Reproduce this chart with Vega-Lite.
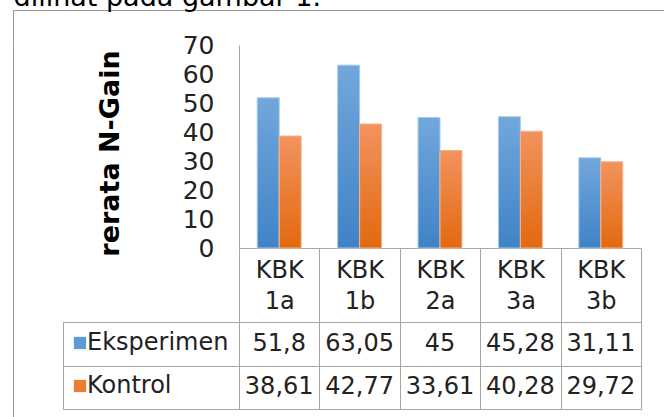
{
  "$schema": "https://vega.github.io/schema/vega-lite/v6.json",
  "padding": {"left": 12, "top": -17, "right": 0, "bottom": 0},
  "background": "white",
  "title": {"text": "dilihat pada gambar 1.", "anchor": "start", "fontSize": 27, "font": "DejaVu Sans", "fontWeight": "normal", "color": "#000000", "offset": -23, "baseline": "alphabetic", "dx": 1},
  "config": {
    "font": "DejaVu Sans",
    "view": {"stroke": null},
    "locale": {"number": {"decimal": ",", "thousands": ".", "grouping": [3], "currency": ["", ""]}}
  },
  "datasets": {
    "gain": [
      {"kbk": "KBK 1a", "series": "Eksperimen", "value": 51.8},
      {"kbk": "KBK 1a", "series": "Kontrol", "value": 38.61},
      {"kbk": "KBK 1b", "series": "Eksperimen", "value": 63.05},
      {"kbk": "KBK 1b", "series": "Kontrol", "value": 42.77},
      {"kbk": "KBK 2a", "series": "Eksperimen", "value": 45},
      {"kbk": "KBK 2a", "series": "Kontrol", "value": 33.61},
      {"kbk": "KBK 3a", "series": "Eksperimen", "value": 45.28},
      {"kbk": "KBK 3a", "series": "Kontrol", "value": 40.28},
      {"kbk": "KBK 3b", "series": "Eksperimen", "value": 31.11},
      {"kbk": "KBK 3b", "series": "Kontrol", "value": 29.72}
    ],
    "series": [{"series": "Eksperimen"}, {"series": "Kontrol"}]
  },
  "bounds": "flush",
  "spacing": 0,
  "vconcat": [
    {
      "data": {"values": []},
      "mark": "point",
      "encoding": {},
      "width": 660,
      "height": 35,
      "view": {"stroke": "#999999", "strokeWidth": 1, "strokeDash": [660, 695, 35, 0]}
    },
    {
      "bounds": "flush",
      "spacing": 0,
      "hconcat": [
        {
          "data": {"values": []},
          "mark": "point",
          "encoding": {},
          "width": 50,
          "height": 380,
          "view": {"stroke": "#999999", "strokeWidth": 1, "strokeDash": [0, 480, 380, 0]}
        },
        {
          "columns": 2,
          "bounds": "flush",
          "spacing": {"row": 74, "column": 0},
          "resolve": {"legend": {"color": "independent"}},
          "concat": [
            {
              "data": {"values": []},
              "mark": "point",
              "encoding": {},
              "width": 176,
              "height": 203
            },
            {
              "data": {"name": "gain"},
              "width": 402,
              "height": 203,
              "mark": {"type": "bar", "strokeWidth": 1},
              "encoding": {
                "x": {
                  "field": "kbk", "type": "nominal", "sort": null,
                  "scale": {"paddingInner": 0, "paddingOuter": 0},
                  "axis": {
                    "title": null, "labelAngle": 0,
                    "labelExpr": "split(datum.label, ' ')",
                    "labelFontSize": 24, "labelLineHeight": 31, "labelColor": "#222222",
                    "labelPadding": -64, "labelBaseline": "top",
                    "tickSize": 74, "tickBand": "extent", "tickColor": "#a6a6a6",
                    "domainColor": "#a6a6a6", "grid": false
                  }
                },
                "xOffset": {"field": "series", "type": "nominal", "scale": {"paddingInner": 0, "paddingOuter": 0.83}},
                "y": {
                  "field": "value", "type": "quantitative",
                  "scale": {"domain": [0, 70], "nice": false},
                  "axis": {
                    "title": "rerata N-Gain", "titleFontSize": 27, "titleFontWeight": "bold", "titleColor": "#000000",
                    "titlePadding": 58, "titleY": 108,
                    "values": [0, 10, 20, 30, 40, 50, 60, 70],
                    "labelFontSize": 25, "labelColor": "#222222", "labelPadding": 25,
                    "ticks": false, "domainColor": "#a6a6a6", "grid": false
                  }
                },
                "fill": {
                  "condition": {
                    "test": "datum.series === 'Eksperimen'",
                    "value": {"gradient": "linear", "x1": 0, "y1": 0, "x2": 0, "y2": 1, "stops": [{"offset": 0, "color": "#72a7dc"}, {"offset": 1, "color": "#3f83c6"}]}
                  },
                  "value": {"gradient": "linear", "x1": 0, "y1": 0, "x2": 0, "y2": 1, "stops": [{"offset": 0, "color": "#f2935e"}, {"offset": 1, "color": "#e2690f"}]}
                },
                "stroke": {
                  "condition": {"test": "datum.series === 'Eksperimen'", "value": "#a9c9ec"},
                  "value": "#f6b48e"
                }
              }
            },
            {
              "data": {"name": "series"},
              "width": 176,
              "height": 87,
              "view": {"stroke": "#a6a6a6"},
              "mark": {"type": "point", "opacity": 0},
              "encoding": {
                "y": {
                  "field": "series", "type": "nominal",
                  "scale": {"type": "band", "paddingInner": 0, "paddingOuter": 0},
                  "axis": {"labels": false, "ticks": false, "domain": false, "grid": true, "tickBand": "extent", "gridColor": "#a6a6a6", "title": null}
                }
              }
            },
            {
              "data": {"name": "gain"},
              "width": 402,
              "height": 87,
              "view": {"stroke": "#a6a6a6"},
              "encoding": {
                "x": {
                  "field": "kbk", "type": "nominal", "sort": null,
                  "scale": {"type": "band", "paddingInner": 0, "paddingOuter": 0},
                  "axis": {"labels": false, "ticks": false, "domain": false, "grid": true, "tickBand": "extent", "gridColor": "#a6a6a6", "title": null}
                },
                "y": {
                  "field": "series", "type": "nominal",
                  "scale": {"type": "band", "paddingInner": 0, "paddingOuter": 0},
                  "axis": {"labels": false, "ticks": false, "domain": false, "grid": true, "tickBand": "extent", "gridColor": "#a6a6a6", "title": null}
                }
              },
              "layer": [
                {
                  "mark": {"type": "text", "fontSize": 24, "color": "#222222"},
                  "encoding": {"text": {"field": "value", "type": "quantitative", "format": ".2~f"}}
                },
                {
                  "mark": {"type": "point", "filled": true, "opacity": 0},
                  "encoding": {
                    "color": {
                      "field": "series", "type": "nominal",
                      "scale": {"range": ["#5b9bd5", "#ed7d31"]},
                      "legend": {
                        "orient": "left", "title": null, "symbolType": "square", "symbolSize": 150,
                        "symbolOpacity": 1, "symbolStrokeWidth": 0, "labelFontSize": 24, "labelColor": "#222222",
                        "labelOffset": -5, "rowPadding": 19, "padding": 9, "offset": 1
                      }
                    }
                  }
                }
              ]
            }
          ]
        }
      ]
    }
  ]
}
